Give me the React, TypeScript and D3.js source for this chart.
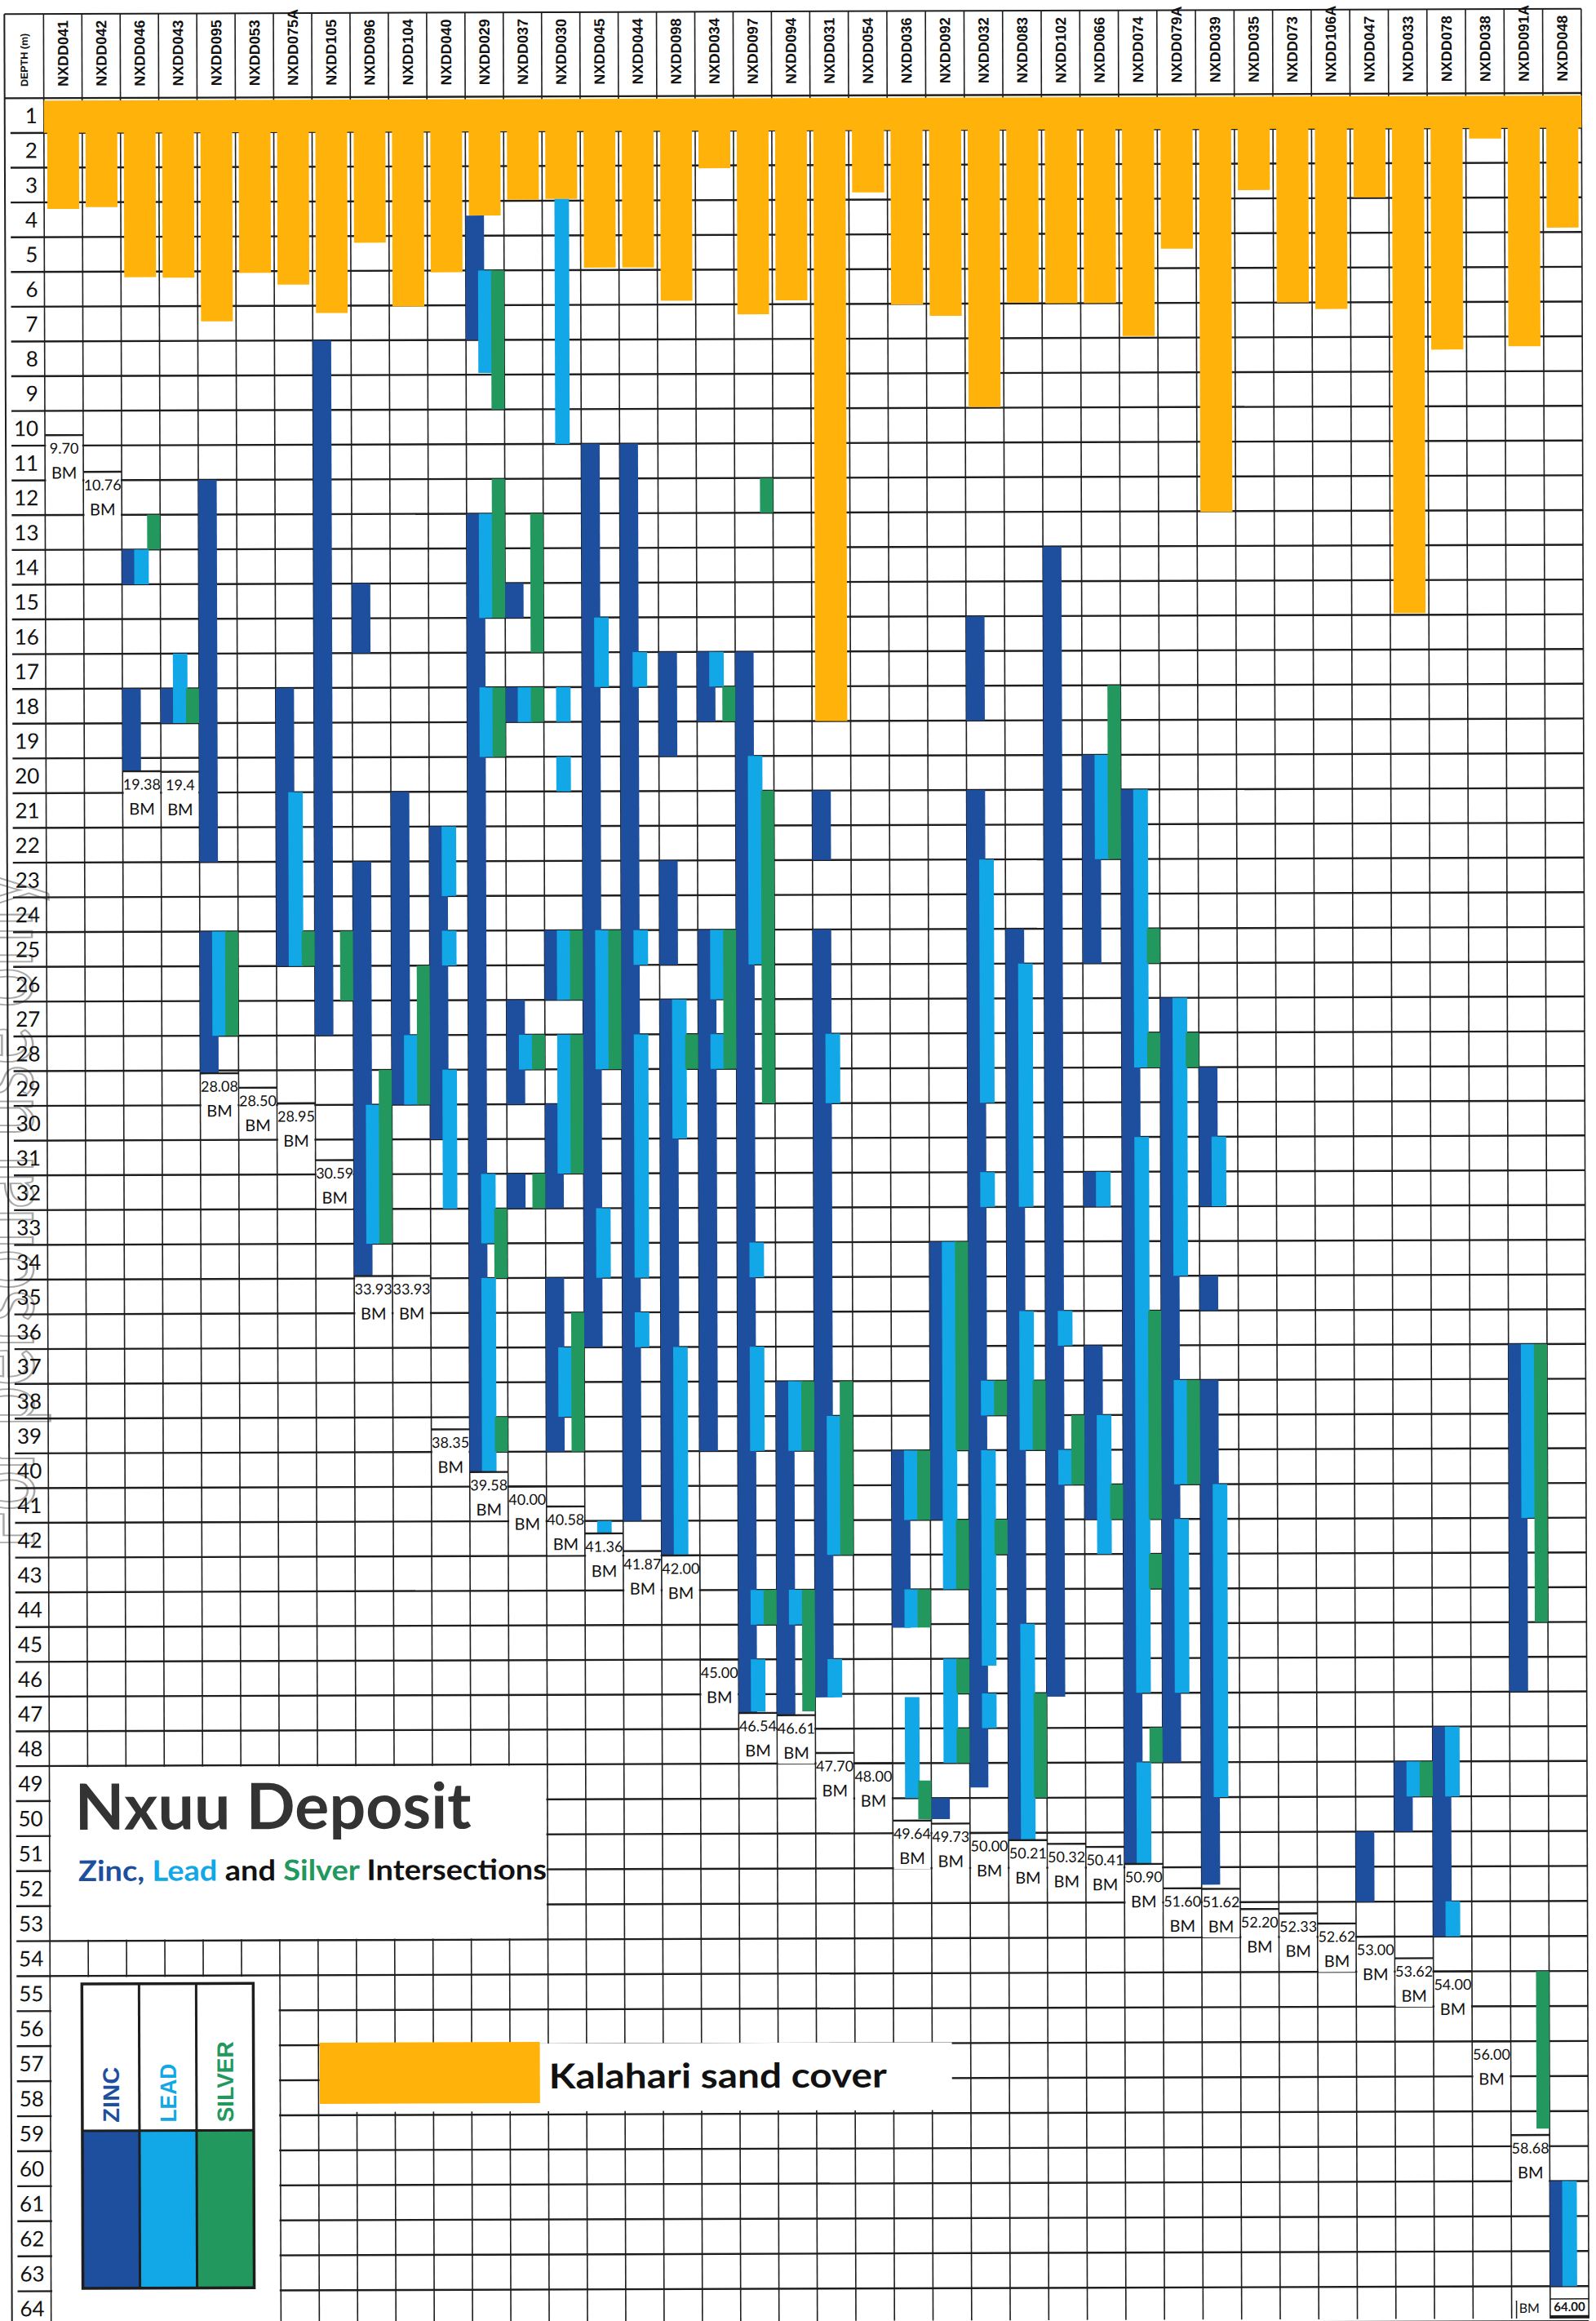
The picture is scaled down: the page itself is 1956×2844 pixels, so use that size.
import React from 'react';
import * as d3 from 'd3';

// drill holes, left to right
const holes = [
  'NXDD041', 'NXDD042', 'NXDD046', 'NXDD043', 'NXDD095', 'NXDD053', 'NXDD075A', 'NXDD105',
  'NXDD096', 'NXDD104', 'NXDD040', 'NXDD029', 'NXDD037', 'NXDD030', 'NXDD045', 'NXDD044',
  'NXDD098', 'NXDD034', 'NXDD097', 'NXDD094', 'NXDD031', 'NXDD054', 'NXDD036', 'NXDD092',
  'NXDD032', 'NXDD083', 'NXDD102', 'NXDD066', 'NXDD074', 'NXDD079A', 'NXDD039', 'NXDD035',
  'NXDD073', 'NXDD106A', 'NXDD047', 'NXDD033', 'NXDD078', 'NXDD038', 'NXDD091A', 'NXDD048'
];

// depth of Kalahari sand cover (m)
const sandDepth = [
  3.19, 3.14, 5.16, 5.18, 6.44, 5.05, 5.39, 6.21, 4.19, 6.03,
  5.05, 3.42, 2.97, 2.95, 4.93, 4.93, 5.89, 2.08, 6.29, 5.89,
  18.0, 2.79, 6.02, 6.35, 8.98, 5.98, 6.0, 6.0, 6.95, 4.44,
  12.02, 2.76, 6.0, 6.19, 2.98, 14.95, 7.37, 1.3, 7.28, 3.87
];

// end of hole (BM)
const endLabels = [
  '9.70', '10.76', '19.38', '19.4', '28.08', '28.50', '28.95', '30.59', '33.93', '33.93',
  '38.35', '39.58', '40.00', '40.58', '41.36', '41.87', '42.00', '45.00', '46.54', '46.61',
  '47.70', '48.00', '49.64', '49.73', '50.00', '50.21', '50.32', '50.41', '50.90', '51.60',
  '51.62', '52.20', '52.33', '52.62', '53.00', '53.62', '54.00', '56.00', '58.68', '64.00'
];

// intersections: [hole index, from (m), to (m)]
const zinc = [
  [2, 13, 14], [2, 17, 19.38], [3, 17, 18], [4, 11, 22], [4, 24, 28.08], [6, 17, 25],
  [7, 7, 27], [8, 14, 16], [8, 22, 33.93], [9, 20, 29], [10, 21, 30], [11, 3.42, 7],
  [11, 12, 39.58], [12, 14, 15], [12, 17, 18], [12, 26, 29], [12, 31, 32], [13, 24, 26],
  [13, 29, 32], [13, 34, 39], [14, 10, 36], [15, 10, 41], [16, 16, 19], [16, 22, 25],
  [16, 26, 42], [17, 16, 18], [17, 24, 39], [18, 16, 46.54], [19, 37, 46.61], [20, 20, 22],
  [20, 24, 46.1], [22, 39, 44.1], [23, 33, 41], [23, 49, 49.6], [24, 15, 18], [24, 20, 48.7],
  [25, 24, 50.21], [26, 13, 46.1], [27, 19, 25], [27, 31, 32], [27, 36, 41], [28, 20, 50.9],
  [29, 26, 48], [30, 28, 32], [30, 34, 35], [30, 37, 51.5], [34, 50, 52], [35, 48, 50],
  [36, 47, 53], [38, 36, 46], [39, 60, 63]
];

const lead = [
  [2, 13, 14], [3, 16, 18], [4, 24, 27], [6, 20, 25], [8, 29, 33], [9, 27, 29],
  [10, 21, 23], [10, 24, 25], [10, 28, 32], [11, 5, 7.95], [11, 12, 15], [11, 17, 19],
  [11, 31, 33], [11, 34, 39.58], [12, 17, 18], [12, 27, 28], [13, 2.95, 10], [13, 17, 18],
  [13, 19, 20], [13, 24, 26], [13, 27, 31], [13, 36, 38], [14, 15, 17], [14, 24, 28],
  [14, 32, 34], [14, 41, 41.36], [15, 16, 17], [15, 24, 25], [15, 27, 34], [15, 35, 36],
  [16, 26, 30], [16, 36, 42], [17, 16, 17], [17, 24, 26], [17, 27, 28], [18, 19, 25],
  [18, 33, 34], [18, 36, 39], [18, 43, 44], [18, 45, 46.5], [19, 37, 39], [19, 43, 44],
  [20, 27, 29], [20, 38, 42], [20, 45, 46.1], [22, 39, 41], [22, 43, 44.1], [22, 46.1, 49],
  [23, 33, 43], [23, 45, 48], [24, 22, 29], [24, 31, 32], [24, 37, 38], [24, 39, 45.2],
  [24, 46, 47], [25, 25, 32], [25, 35, 39], [25, 44, 50.21], [26, 35, 36], [26, 39, 40],
  [27, 19, 22], [27, 31, 32], [27, 38, 42], [28, 20, 28], [28, 30, 46], [28, 48, 50.9],
  [29, 26, 34], [29, 37, 40], [29, 41, 46], [30, 30, 32], [30, 40, 49], [35, 48, 49],
  [36, 47, 49], [36, 52, 53], [38, 36, 41], [39, 60, 63]
];

const silver = [
  [2, 12, 13], [3, 17, 18], [4, 24, 27], [6, 24, 25], [7, 24, 26], [8, 28, 33],
  [9, 25, 29], [11, 5, 9], [11, 11, 15], [11, 17, 19], [11, 32, 34], [11, 38, 39],
  [12, 12, 16], [12, 17, 18], [12, 27, 28], [12, 31, 32], [13, 24, 26], [13, 27, 31],
  [13, 35, 39], [14, 24, 28], [16, 27, 28], [17, 17, 18], [17, 24, 28], [18, 11, 12],
  [18, 20, 29], [18, 43, 44], [19, 37, 39], [19, 43, 46.5], [20, 37, 42], [22, 39, 41],
  [22, 43, 44.1], [22, 48.5, 49.6], [23, 33, 39], [23, 41, 43], [23, 45, 46], [23, 47, 48],
  [24, 37, 38], [24, 41, 42], [25, 37, 39], [25, 46, 49], [26, 38, 40], [27, 17, 22],
  [27, 40, 41], [28, 24, 25], [28, 27, 28], [28, 35, 41], [28, 42, 43], [28, 47, 48],
  [29, 27, 28], [29, 37, 40], [35, 48, 49], [38, 36, 44], [38, 54, 58.5]
];

const legendNames = ['ZINC', 'LEAD', 'SILVER'];

const W = 1956;
const H = 2844;
const ZINC = '#1d4f9e';
const LEAD = '#12a7e6';
const SILVER = '#22985e';
const SAND = '#ffb20a';
const INK = '#1e1e1e';

export default function App() {
  // slightly uneven spacing of the scanned table
  const x = d3.scaleLinear().domain([0, 20, 40]).range([58, 997, 1942.5]);
  const y = d3.scaleLinear().domain([0, 48, 64]).range([117.2, 2160.9, 2847.3]);
  const cw = (i: number) => x(i + 1) - x(i);
  const cx = (i: number) => (x(i) + x(i + 1)) / 2;
  const sans = 'Lato, "Open Sans", sans-serif';
  const arial = '"Liberation Sans", Arial, sans-serif';
  const ends = endLabels.map(s => +s);

  const layers = [
    { data: zinc, color: ZINC, f0: 0, f1: 0.48 },
    { data: lead, color: LEAD, f0: 0.32, f1: 0.7 },
    { data: silver, color: SILVER, f0: 0.66, f1: 1.0 }
  ];
  const legendColors = [ZINC, LEAD, SILVER];
  const legendLen = [68, 72, 99];

  return (
    <svg width={W} height={H} style={{ position: 'absolute', left: 0, top: 0 }}>
      <rect width={W} height={H} fill="#fff" />
      <g transform={`rotate(-0.19 ${W / 2} ${H / 2})`}>
        {/* watermark */}
        <text
          transform="translate(40,1895) rotate(-90)"
          fontFamily={sans}
          fontSize={120}
          textLength={830}
          lengthAdjust="spacingAndGlyphs"
          fill="none"
          stroke="#a8a8a8"
          strokeWidth={2.5}
        >
          For personal use only
        </text>

        {/* grid */}
        <line x1={10} x2={x(40)} y1={14} y2={14} stroke={INK} strokeWidth={2} />
        <line x1={10} x2={10} y1={14} y2={H} stroke={INK} strokeWidth={2} />
        {d3.range(0, 65).map(d => (
          <line key={'h' + d} x1={d === 0 ? 10 : 17} x2={x(40)} y1={y(d)} y2={y(d)} stroke={INK} strokeWidth={2.4} />
        ))}
        {d3.range(0, 41).map(i => (
          <line key={'v' + i} x1={x(i)} x2={x(i)} y1={14} y2={H} stroke={INK} strokeWidth={1.6} />
        ))}

        {/* header */}
        <text
          transform={`translate(34,103) rotate(-90)`}
          dy="0.36em"
          fontFamily={arial}
          fontWeight="bold"
          fontSize={12.5}
          fill="#111"
        >
          DEPTH (m)
        </text>
        {holes.map((h, i) => (
          <text
            key={h}
            transform={`translate(${cx(i)},103) rotate(-90)`}
            dy="0.36em"
            fontFamily={arial}
            fontWeight="bold"
            fontSize={18}
            fill="#111"
          >
            {h}
          </text>
        ))}

        {/* depth labels */}
        {d3.range(1, 65).map(d => (
          <text
            key={'r' + d}
            x={50}
            y={y(d - 0.5)}
            dy="0.36em"
            textAnchor="end"
            fontFamily={sans}
            fontSize={26}
            fill="#111"
          >
            {d}
          </text>
        ))}

        {/* Kalahari sand */}
        <rect x={x(0)} y={y(0) + 3} width={x(40) - x(0)} height={y(1) - y(0) - 3} fill={SAND} />
        {sandDepth.map((s, i) => (
          <rect key={'s' + i} x={x(i) + 4} y={y(1) - 1} width={cw(i) - 8} height={y(s) - y(1) + 1} fill={SAND} />
        ))}

        {/* intersections */}
        {layers.map((L, k) =>
          L.data.map(([i, a, b], j) => (
            <rect
              key={k + '-' + j}
              x={x(i) + L.f0 * cw(i)}
              y={y(a)}
              width={(L.f1 - L.f0) * cw(i)}
              height={y(b) - y(a)}
              fill={L.color}
            />
          ))
        )}

        {/* end of hole labels */}
        {ends.map((d, i) =>
          y(d) + 58 < H ? (
            <rect key={'bmr' + i} x={x(i) + 1.2} y={y(d) + 1.5} width={cw(i) - 2.4} height={58} fill="#fff" />
          ) : (
            <rect key={'bmr' + i} x={x(i) + 1.2} y={H - 24} width={cw(i) - 2.4} height={24} fill="#fff" />
          )
        )}
        {ends.map((d, i) =>
          y(d) + 58 < H ? (
            <g key={'bm' + i} fontFamily={sans} fill="#111" textAnchor="middle">
              <line x1={x(i)} x2={x(i + 1)} y1={y(d)} y2={y(d)} stroke={INK} strokeWidth={2.4} />
              <text x={cx(i)} y={y(d) + 16} dy="0.36em" fontSize={18}>
                {endLabels[i]}
              </text>
              <text x={cx(i)} y={y(d) + 46} dy="0.36em" fontSize={20}>BM</text>
            </g>
          ) : (
            <g key={'bm' + i} fontFamily={sans} fill="#111">
              <line x1={x(i)} x2={x(i + 1)} y1={H - 2} y2={H - 2} stroke={INK} strokeWidth={4} />
              <line x1={x(i)} x2={x(i + 1)} y1={H - 24} y2={H - 24} stroke={INK} strokeWidth={1.5} />
              <text x={cx(i)} y={H - 9} textAnchor="middle" fontSize={15} fontWeight="bold">{endLabels[i]}</text>
              <rect x={x(i - 1) + 6} y={H - 22} width={cw(i - 1) - 8} height={22} fill="#fff" />
              <line x1={x(i - 1) + 6} x2={x(i - 1) + 6} y1={H - 22} y2={H} stroke={INK} strokeWidth={1.5} />
              <text x={x(i - 1) + 9} y={H - 7} fontSize={16}>BM</text>
            </g>
          )
        )}

        {/* title panel */}
        <rect x={x(0) + 1.5} y={y(48) + 1.5} width={x(13) - x(0) - 3} height={y(53) - y(48) - 3} fill="#fff" />
        <text x={89} y={2239} fontFamily={sans} fontWeight="bold" fontSize={78} fill="#333" textLength={486} lengthAdjust="spacingAndGlyphs">
          Nxuu Deposit
        </text>
        <text x={93} y={2302} fontFamily={sans} fontWeight="bold" fontSize={35} textLength={574} lengthAdjust="spacingAndGlyphs" style={{ whiteSpace: 'pre' }}>
          <tspan fill={ZINC}>Zinc,</tspan>
          <tspan fill={LEAD}>{' Lead'}</tspan>
          <tspan fill="#111">{' and '}</tspan>
          <tspan fill={SILVER}>Silver</tspan>
          <tspan fill="#111">{' Intersections'}</tspan>
        </text>

        {/* legend panel */}
        <rect x={x(0) + 1.5} y={y(54) + 1.5} width={x(6) - x(0) - 3} height={H - y(54)} fill="#fff" />
        {legendNames.map((n, k) => {
          const lx = 97 + k * 70;
          return (
            <g key={n}>
              <rect x={lx} y={2608} width={70} height={193} fill={legendColors[k]} />
              <text
                transform={`translate(${lx + 35},2598) rotate(-90)`}
                dy="0.36em"
                fontFamily={arial}
                fontWeight="bold"
                fontSize={28}
                textLength={legendLen[k]}
                lengthAdjust="spacingAndGlyphs"
                fill={legendColors[k]}
              >
                {n}
              </text>
            </g>
          );
        })}
        <rect x={97} y={2428} width={210} height={373} fill="none" stroke={INK} strokeWidth={3.5} />
        <line x1={97} x2={307} y1={2608} y2={2608} stroke={INK} strokeWidth={3} />
        <line x1={167} x2={167} y1={2428} y2={2801} stroke={INK} strokeWidth={3} />
        <line x1={237} x2={237} y1={2428} y2={2801} stroke={INK} strokeWidth={3} />

        {/* sand legend */}
        <rect x={388} y={2503} width={775} height={83} fill="#fff" />
        <rect x={388} y={2501} width={270} height={75} fill={SAND} />
        <text x={669} y={2558} fontFamily={sans} fontWeight="bold" fontSize={42} fill="#111" textLength={414} lengthAdjust="spacingAndGlyphs">
          Kalahari sand cover
        </text>
      </g>
    </svg>
  );
}
